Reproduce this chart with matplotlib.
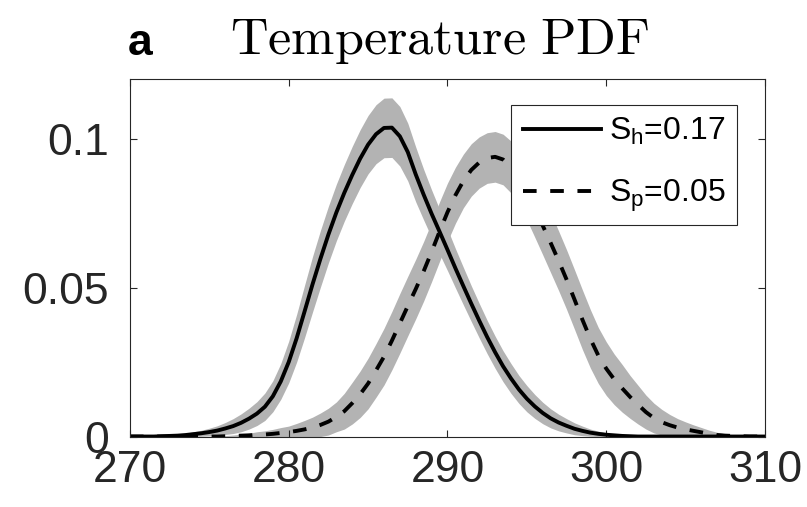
import numpy as np
import matplotlib
matplotlib.use("Agg")
import matplotlib.pyplot as plt

plt.rcParams['font.family'] = ['Liberation Sans', 'DejaVu Sans']
plt.rcParams['mathtext.fontset'] = 'custom'
plt.rcParams['mathtext.rm'] = 'Liberation Sans'
plt.rcParams['mathtext.it'] = 'Liberation Sans'

# temperature grid (K), every 0.5 K
temp = np.arange(270, 310.25, 0.5)

# historical PDF (solid line) and half-width of its grey band
hist_pdf = [0, 0, 0, 0, 0.0001, 0.0002, 0.0003, 0.0005, 0.0008, 0.0011,
            0.0015, 0.002, 0.0027, 0.0035, 0.0046, 0.006, 0.0077, 0.0100, 0.0135, 0.0185,
            0.0250, 0.0330, 0.0420, 0.0511, 0.0597, 0.0678, 0.0752, 0.0818, 0.0878, 0.0933,
            0.0980, 0.1015, 0.1036, 0.1037, 0.1008, 0.0955, 0.0880, 0.0812, 0.0748, 0.0688,
            0.0627, 0.0565, 0.0505, 0.0446, 0.0389, 0.0334, 0.0283, 0.0236, 0.0195, 0.0158,
            0.0127, 0.0101, 0.0079, 0.0061, 0.0047, 0.0036, 0.0026, 0.0019, 0.0013, 0.0009,
            0.0006, 0.0004, 0.0002, 0.0001, 0, 0, 0, 0, 0, 0,
            0, 0, 0, 0, 0, 0, 0, 0, 0, 0,
            0]
hist_spread = [0, 0, 0, 0, 0.0002, 0.0003, 0.0004, 0.0006, 0.0008, 0.001,
               0.0013, 0.0016, 0.002, 0.0025, 0.003, 0.0035, 0.004, 0.0046, 0.0052, 0.006,
               0.007, 0.008, 0.0088, 0.0093, 0.0095, 0.0095, 0.0095, 0.0095, 0.0096, 0.0097,
               0.0098, 0.0099, 0.01, 0.01, 0.01, 0.0097, 0.0092, 0.0085, 0.008, 0.0075,
               0.007, 0.0066, 0.0063, 0.006, 0.0058, 0.0056, 0.0054, 0.0052, 0.005, 0.0047,
               0.0044, 0.004, 0.0036, 0.0032, 0.0028, 0.0024, 0.002, 0.0016, 0.0012, 0.0009,
               0.0006, 0.0004, 0.0003, 0.0002, 0.0001, 0, 0, 0, 0, 0,
               0, 0, 0, 0, 0, 0, 0, 0, 0, 0,
               0]

# projected PDF (dashed line) and half-width of its grey band
proj_pdf = [0, 0, 0, 0, 0, 0, 0, 0, 0, 0,
            0, 0, 0.0001, 0.0002, 0.0003, 0.0004, 0.0006, 0.0007, 0.0009, 0.0012,
            0.0015, 0.0019, 0.0024, 0.003, 0.0039, 0.005, 0.0066, 0.0085, 0.0112, 0.0142,
            0.0178, 0.0222, 0.0268, 0.0322, 0.0380, 0.0438, 0.0495, 0.0555, 0.0620, 0.0688,
            0.0753, 0.0810, 0.0858, 0.0895, 0.0920, 0.0935, 0.0939, 0.0930, 0.0905, 0.0868,
            0.0820, 0.0765, 0.0708, 0.0650, 0.0590, 0.0527, 0.0460, 0.0392, 0.0328, 0.0272,
            0.0228, 0.0192, 0.0162, 0.0133, 0.0107, 0.0082, 0.0062, 0.0048, 0.0038, 0.0030,
            0.0024, 0.0019, 0.0014, 0.0009, 0.0005, 0.0003, 0.0002, 0.0001, 0, 0,
            0]
proj_spread = [0, 0, 0, 0, 0, 0, 0, 0, 0, 0,
               0, 0, 0.0002, 0.0003, 0.0005, 0.0007, 0.001, 0.0012, 0.0015, 0.0018,
               0.002, 0.0025, 0.003, 0.0035, 0.004, 0.0045, 0.005, 0.006, 0.007, 0.0078,
               0.0085, 0.009, 0.0095, 0.0098, 0.01, 0.01, 0.01, 0.01, 0.01, 0.01,
               0.0098, 0.0094, 0.009, 0.0088, 0.0086, 0.0085, 0.0085, 0.0085, 0.0087, 0.009,
               0.0093, 0.0096, 0.0098, 0.01, 0.01, 0.01, 0.01, 0.01, 0.0098, 0.0094,
               0.009, 0.0085, 0.008, 0.0072, 0.0065, 0.0057, 0.005, 0.0043, 0.0036, 0.003,
               0.0025, 0.002, 0.0016, 0.0012, 0.0009, 0.0006, 0.0004, 0.0002, 0.0001, 0,
               0]

labels = [r"S$_{\mathrm{h}}$=0.17", r"S$_{\mathrm{p}}$=0.05"]

hist_pdf = np.array(hist_pdf)
proj_pdf = np.array(proj_pdf)
hist_spread = np.array(hist_spread)
proj_spread = np.array(proj_spread)

fig = plt.figure(figsize=(8.07, 5.07), dpi=100)
ax = fig.add_axes([0.161, 0.139, 0.787, 0.705])

band = '#b3b3b3'
ax.fill_between(temp, np.maximum(hist_pdf - hist_spread, 0), hist_pdf + hist_spread,
                color=band, lw=0)
ax.fill_between(temp, np.maximum(proj_pdf - proj_spread, 0), proj_pdf + proj_spread,
                color=band, lw=0)
ax.plot(temp, hist_pdf, color='k', lw=2.8, label=labels[0])
ax.plot(temp, proj_pdf, color='k', lw=2.8, ls=(0, (3.5, 3.5)), label=labels[1])

ax.set_xlim(270, 310)
ax.set_ylim(0, 0.12)
ax.set_xticks([270, 280, 290, 300, 310])
ax.set_yticks([0, 0.05, 0.1])
ax.set_yticklabels(['0', '0.05', '0.1'])
ax.tick_params(direction='in', length=5, width=0.8, top=True, right=True,
               labelsize=32, colors='#262626')
ax.tick_params(axis='y', pad=15)
ax.tick_params(axis='x', pad=10)
for s in ax.spines.values():
    s.set_color('#262626')
    s.set_linewidth(0.8)

fig.text(0.545, 0.8935, r"$\mathrm{Temperature\ PDF}$", fontsize=37.5,
         math_fontfamily='cm', ha='center', va='baseline')
fig.text(0.1586, 0.8915, 'a', fontsize=32, fontweight='bold', va='baseline')

leg = ax.legend(loc='upper right', bbox_to_anchor=(737 / 807, 1 - 105 / 507),
                bbox_transform=fig.transFigure, fontsize=23, handlelength=2.45,
                frameon=True, fancybox=False, edgecolor='#262626', borderaxespad=0,
                labelspacing=0.95, handletextpad=0.26, borderpad=0.35, framealpha=1)
leg.get_frame().set_linewidth(0.8)

fig.savefig('out.png', dpi=100)
